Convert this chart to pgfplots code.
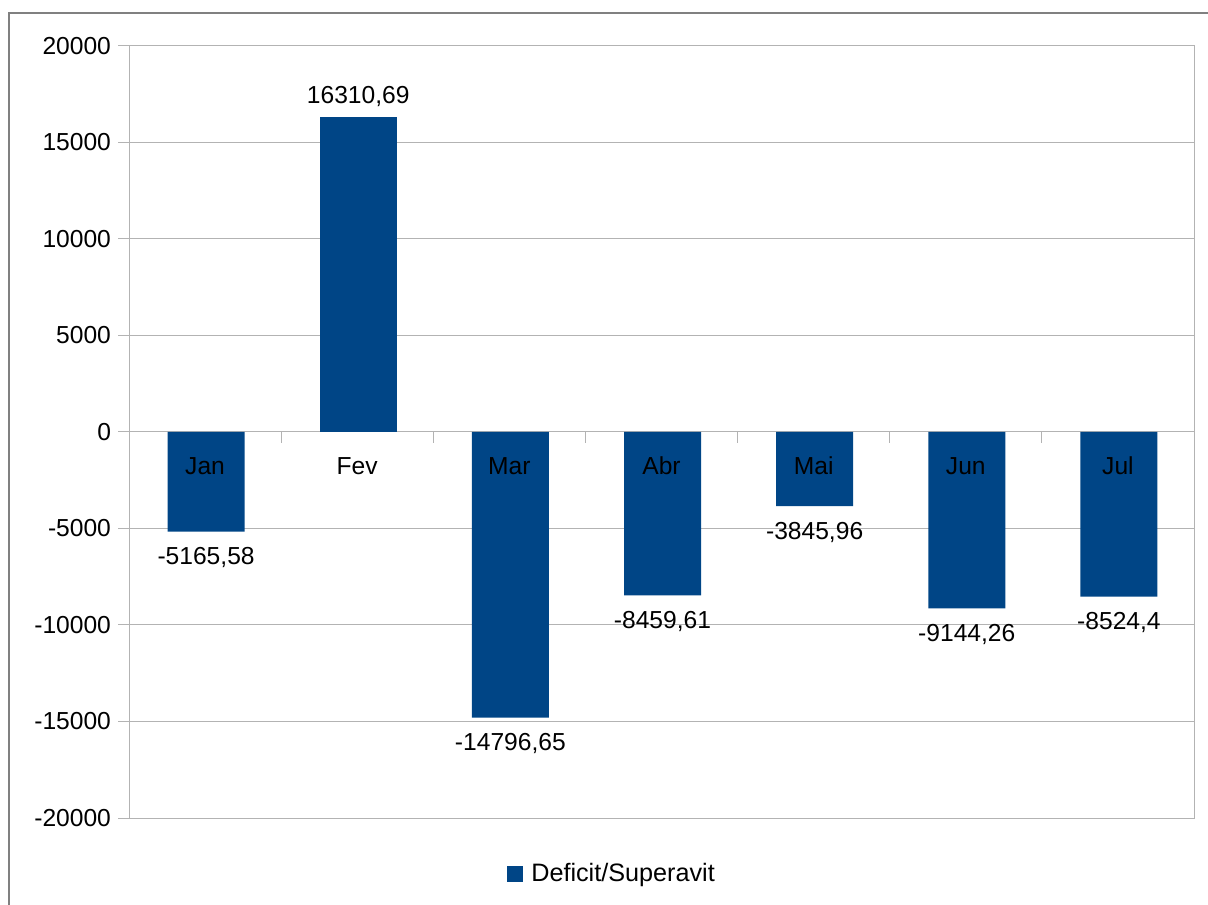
\documentclass[border=0pt]{standalone}
\usepackage{pgfplots}
\pgfplotsset{compat=1.18}
\usepackage{fontspec}
\setmainfont{Liberation Sans}
\definecolor{barblue}{HTML}{004586}
\definecolor{gridgray}{HTML}{B3B3B3}
\definecolor{framegray}{HTML}{808080}
\begin{document}
\begin{tikzpicture}
\path[use as bounding box] (0,0) rectangle (604pt,452pt);
\draw[framegray, line width=0.6pt] (4.5pt,-10pt) -- (4.5pt,445.5pt) -- (620pt,445.5pt);
\begin{axis}[
  at={(64.5pt,43pt)}, anchor=south west,
  scale only axis, width=532.5pt, height=386pt,
  font=\fontsize{12.3}{14}\selectfont,
  /pgf/number format/assume math mode=true,
  /pgf/number format/1000 sep={},
  scaled y ticks=false,
  xmin=-0.5, xmax=6.5,
  ymin=-20000, ymax=20000,
  ytick={-20000,-15000,...,20000},
  xtick=\empty,
  ymajorgrids,
  grid style={gridgray, line width=0.5pt},
  axis line style={gridgray, line width=0.5pt},
  tick style={gridgray, line width=0.5pt},
  tick align=outside,
  major tick length=5.5pt,
  ytick pos=left,
  ybar, bar width=38.5pt, bar shift=0.5pt,
  nodes near coords,
  point meta=explicit symbolic,
  every node near coord/.append style={font=\fontsize{12.3}{14}\selectfont, text=black},
  legend style={at={(0.4545,-0.0725)}, anchor=center, draw=none, fill=none,
    font=\fontsize{12.6}{14}\selectfont,
    /tikz/every odd column/.style={column sep=2pt}},
  legend image code/.code={\fill[barblue] (0pt,-4pt) rectangle (8pt,4pt);},
]
\addplot[fill=barblue, draw=none,
  every node near coord/.append style={anchor=south, yshift=1.5pt}]
  table[x=x, y=y, meta=label] {
x y label
1 16310.69 16310,69
};
\addlegendentry{Deficit/Superavit}
\addplot[fill=barblue, draw=none, forget plot,
  every node near coord/.append style={anchor=north, yshift=-4.5pt}]
  table[x=x, y=y, meta=label] {
x y label
0 -5165.58 -5165,58
2 -14796.65 -14796,65
3 -8459.61 -8459,61
4 -3845.96 -3845,96
5 -9144.26 -9144,26
6 -8524.4 -8524,4
};
\draw[gridgray, line width=0.5pt] (axis cs:0.5,0) -- ([yshift=-5.5pt]axis cs:0.5,0);
\draw[gridgray, line width=0.5pt] (axis cs:1.5,0) -- ([yshift=-5.5pt]axis cs:1.5,0);
\draw[gridgray, line width=0.5pt] (axis cs:2.5,0) -- ([yshift=-5.5pt]axis cs:2.5,0);
\draw[gridgray, line width=0.5pt] (axis cs:3.5,0) -- ([yshift=-5.5pt]axis cs:3.5,0);
\draw[gridgray, line width=0.5pt] (axis cs:4.5,0) -- ([yshift=-5.5pt]axis cs:4.5,0);
\draw[gridgray, line width=0.5pt] (axis cs:5.5,0) -- ([yshift=-5.5pt]axis cs:5.5,0);
\node[font=\fontsize{12.3}{14}\selectfont] at (axis cs:0,0) [yshift=-17pt] {Jan};
\node[font=\fontsize{12.3}{14}\selectfont] at (axis cs:1,0) [yshift=-17pt] {Fev};
\node[font=\fontsize{12.3}{14}\selectfont] at (axis cs:2,0) [yshift=-17pt] {Mar};
\node[font=\fontsize{12.3}{14}\selectfont] at (axis cs:3,0) [yshift=-17pt] {Abr};
\node[font=\fontsize{12.3}{14}\selectfont] at (axis cs:4,0) [yshift=-17pt] {Mai};
\node[font=\fontsize{12.3}{14}\selectfont] at (axis cs:5,0) [yshift=-17pt] {Jun};
\node[font=\fontsize{12.3}{14}\selectfont] at (axis cs:6,0) [yshift=-17pt] {Jul};
\end{axis}
\end{tikzpicture}
\end{document}
